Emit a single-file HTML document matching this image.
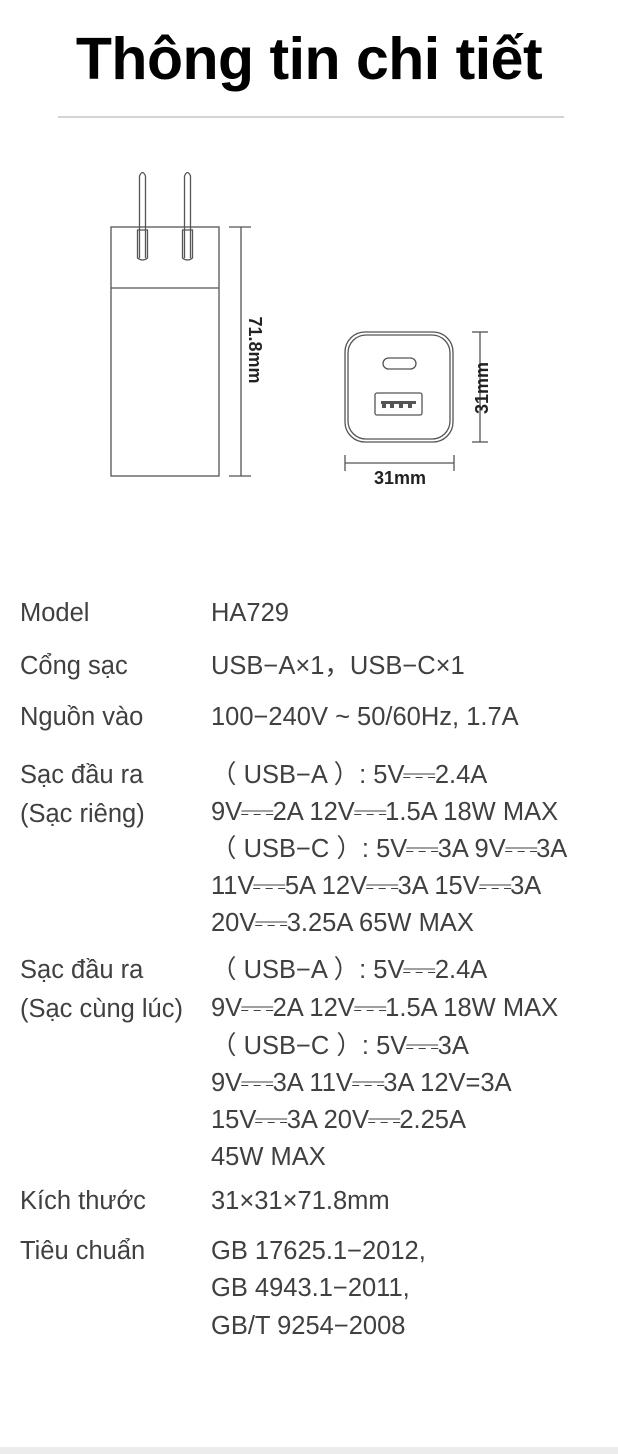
<!DOCTYPE html>
<html><head><meta charset="utf-8"><style>
html,body{margin:0;padding:0;background:#fff;}
body{width:618px;height:1454px;position:relative;overflow:hidden;font-family:"Liberation Sans","Noto Sans CJK SC",sans-serif;}
.t{position:absolute;left:0;width:618px;text-align:center;top:24px;font-size:59px;font-weight:bold;color:#000;line-height:70px;letter-spacing:-0.5px;}
.l{position:absolute;white-space:nowrap;font-size:25.5px;color:#404040;line-height:30px;}
.k{left:20px;}
.v{left:211px;}
i{font-style:normal;display:inline-block;transform:scaleX(1.7);margin:0 5px;}
</style></head><body>
<div class="t">Thông tin chi tiết</div>
<div style="position:absolute;left:58px;top:116px;width:506px;height:2px;background:#d4d4d4"></div>

<svg style="position:absolute;left:0;top:0" width="618" height="520">
<g fill="none" stroke="#555" stroke-width="1.3">
<rect x="111" y="227" width="108" height="249"/>
<line x1="111" y1="288" x2="219" y2="288"/>
<path d="M139.5 258 V176 Q142.5 169 145.5 176 V258"/>
<path d="M184.5 258 V176 Q187.5 169 190.5 176 V258"/>
<path d="M137.5 258 V230 H147.5 V258 Q142.5 262 137.5 258Z"/>
<path d="M182.5 258 V230 H192.5 V258 Q187.5 262 182.5 258Z"/>
<line x1="241" y1="227" x2="241" y2="476"/>
<line x1="229" y1="227" x2="251" y2="227"/>
<line x1="229" y1="476" x2="251" y2="476"/>
<rect x="345" y="332" width="108" height="110" rx="20"/>
<rect x="348" y="335" width="102" height="104" rx="18"/>
<rect x="383" y="358" width="33" height="11" rx="5.5"/>
<rect x="375" y="393" width="47" height="22" rx="2"/>
<line x1="480" y1="332" x2="480" y2="442"/>
<line x1="472" y1="332" x2="488" y2="332"/>
<line x1="472" y1="442" x2="488" y2="442"/>
<line x1="345" y1="463" x2="454" y2="463"/>
<line x1="345" y1="455" x2="345" y2="471"/>
<line x1="454" y1="455" x2="454" y2="471"/>
</g>
<g fill="#555"><rect x="381" y="401" width="35" height="3"/><rect x="382" y="404" width="4" height="4"/><rect x="390" y="404" width="4" height="4"/><rect x="399" y="404" width="4" height="4"/><rect x="408" y="404" width="4" height="4"/></g>
<g font-family="Liberation Sans, sans-serif" font-weight="bold" font-size="18" fill="#222">
<text x="0" y="0" transform="translate(249,350) rotate(90)" text-anchor="middle">71.8mm</text>
<text x="0" y="0" transform="translate(488,388) rotate(-90)" text-anchor="middle">31mm</text>
<text x="400" y="484" text-anchor="middle">31mm</text>
</g>
</svg>

<div class="l k" style="top:598px">Model</div>
<div class="l v" style="top:598px">HA729</div>
<div class="l k" style="top:651px">Cổng sạc</div>
<div class="l v" style="top:651px">USB−A×1，USB−C×1</div>
<div class="l k" style="top:702px">Nguồn vào</div>
<div class="l v" style="top:702px">100−240V ~ 50/60Hz, 1.7A</div>

<div class="l k" style="top:760px">Sạc đầu ra</div>
<div class="l k" style="top:799px">(Sạc riêng)</div>
<div class="l v" style="top:760px">（ USB−A ）: 5V<i>⎓</i>2.4A</div>
<div class="l v" style="top:797px">9V<i>⎓</i>2A 12V<i>⎓</i>1.5A 18W MAX</div>
<div class="l v" style="top:834px">（ USB−C ）: 5V<i>⎓</i>3A 9V<i>⎓</i>3A</div>
<div class="l v" style="top:871px">11V<i>⎓</i>5A 12V<i>⎓</i>3A 15V<i>⎓</i>3A</div>
<div class="l v" style="top:908px">20V<i>⎓</i>3.25A 65W MAX</div>

<div class="l k" style="top:955px">Sạc đầu ra</div>
<div class="l k" style="top:994px">(Sạc cùng lúc)</div>
<div class="l v" style="top:955px">（ USB−A ）:  5V<i>⎓</i>2.4A</div>
<div class="l v" style="top:993px">9V<i>⎓</i>2A 12V<i>⎓</i>1.5A 18W MAX</div>
<div class="l v" style="top:1031px">（ USB−C ）:  5V<i>⎓</i>3A</div>
<div class="l v" style="top:1068px">9V<i>⎓</i>3A 11V<i>⎓</i>3A 12V=3A</div>
<div class="l v" style="top:1105px">15V<i>⎓</i>3A 20V<i>⎓</i>2.25A</div>
<div class="l v" style="top:1142px">45W MAX</div>

<div class="l k" style="top:1186px">Kích thước</div>
<div class="l v" style="top:1186px">31×31×71.8mm</div>
<div class="l k" style="top:1236px">Tiêu chuẩn</div>
<div class="l v" style="top:1236px">GB 17625.1−2012,</div>
<div class="l v" style="top:1273px">GB 4943.1−2011,</div>
<div class="l v" style="top:1311px">GB/T 9254−2008</div>

<div style="position:absolute;left:0;top:1447px;width:618px;height:7px;background:#ececec"></div>
</body></html>
